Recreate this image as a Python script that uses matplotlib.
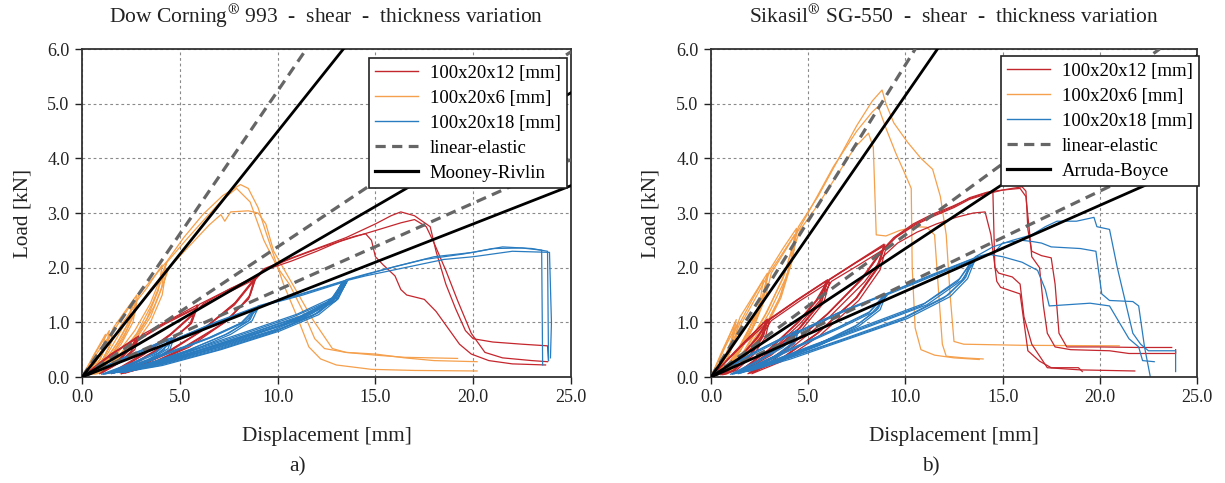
import matplotlib
matplotlib.use('Agg')
import matplotlib.pyplot as plt
from matplotlib.lines import Line2D

plt.rcParams['font.family'] = ['Liberation Serif', 'DejaVu Serif']
plt.rcParams['mathtext.fontset'] = 'stix'

# ---------------- data: Dow Corning 993 (panel a) ----------------
dc_o1_x = [0, 0.7, 1.4, 1.25, 0.9, 0.4, 0.9, 1.3, 1.6, 2.2, 2.8, 2.6, 2.1, 1.3, 0.6, 1.4, 2.1, 2.6, 2.9, 3.6, 4.3, 4.05, 3.5, 2.6, 1.6, 0.8, 1.8, 2.8, 3.6, 4.1, 4.35, 5.2, 6.2, 7.2, 8.1, 8.5, 9.0, 9.4, 10.3, 11.0, 11.6, 12.2, 13.0, 14.8, 17.0, 20.2]
dc_o1_y = [0, 0.45, 0.85, 0.6, 0.3, 0.05, 0.32, 0.62, 0.9, 1.2, 1.5, 1.1, 0.7, 0.3, 0.06, 0.4, 0.8, 1.15, 1.5, 1.8, 2.1, 1.6, 1.1, 0.6, 0.25, 0.06, 0.35, 0.8, 1.35, 1.8, 2.12, 2.55, 2.98, 3.32, 3.52, 3.45, 3.1, 2.65, 1.7, 1.1, 0.55, 0.33, 0.22, 0.14, 0.12, 0.11]
dc_o2_x = [0, 0.8, 1.6, 1.4, 1.0, 0.5, 1.1, 1.6, 2.0, 2.8, 2.6, 2.0, 1.2, 0.6, 1.5, 2.2, 2.8, 3.5, 4.3, 4.1, 3.5, 2.6, 1.6, 0.9, 1.9, 2.9, 3.7, 4.2, 4.45, 5.5, 6.5, 7.1, 7.3, 7.6, 8.5, 9.0, 9.4, 9.8, 10.6, 11.8, 12.8, 13.5, 15.0, 16.5, 18.0, 20.2]
dc_o2_y = [0, 0.45, 0.85, 0.55, 0.28, 0.05, 0.35, 0.7, 0.95, 1.35, 1.0, 0.6, 0.25, 0.05, 0.4, 0.8, 1.25, 1.6, 1.95, 1.5, 1.0, 0.55, 0.2, 0.06, 0.35, 0.8, 1.3, 1.75, 2.0, 2.4, 2.78, 2.97, 2.85, 3.02, 3.04, 3.0, 2.8, 2.3, 1.8, 1.05, 0.52, 0.45, 0.42, 0.35, 0.3, 0.28]
dc_o3_x = [0, 0.6, 1.2, 1.05, 0.7, 0.3, 0.8, 1.3, 1.9, 2.6, 2.4, 1.8, 1.1, 0.5, 1.3, 2.0, 2.6, 3.3, 4.1, 3.9, 3.3, 2.4, 1.4, 0.7, 1.7, 2.7, 3.5, 4.0, 4.3, 5.3, 6.3, 7.2, 7.9, 8.6, 9.3, 10.0, 10.6, 11.3, 11.9, 12.4, 13.5, 15.0, 16.5, 19.2]
dc_o3_y = [0, 0.4, 0.78, 0.52, 0.26, 0.04, 0.35, 0.68, 1.0, 1.38, 1.02, 0.62, 0.26, 0.05, 0.42, 0.85, 1.3, 1.62, 2.05, 1.58, 1.05, 0.58, 0.22, 0.05, 0.38, 0.85, 1.35, 1.8, 2.08, 2.5, 2.9, 3.25, 3.45, 3.2, 2.5, 2.0, 1.7, 1.2, 0.7, 0.52, 0.45, 0.4, 0.36, 0.34]

dc_r1_x = [0, 1.5, 2.9, 2.7, 2.0, 1.0, 2.0, 2.7, 3.1, 4.5, 5.9, 5.6, 4.5, 3.0, 1.5, 3.0, 4.5, 5.5, 6.0, 7.5, 8.9, 8.6, 7.5, 5.5, 3.0, 2.0, 4.0, 6.0, 7.8, 8.7, 9.3, 10.5, 12.0, 13.5, 15.0, 15.8, 16.3, 17.0, 17.8, 18.1, 18.6, 19.1, 19.6, 20.0, 21.0, 22.5, 23.8, 23.85]
dc_r1_y = [0, 0.42, 0.75, 0.5, 0.28, 0.08, 0.35, 0.6, 0.78, 1.05, 1.32, 1.0, 0.65, 0.3, 0.08, 0.4, 0.78, 1.1, 1.33, 1.6, 1.85, 1.5, 1.05, 0.55, 0.15, 0.06, 0.38, 0.82, 1.35, 1.75, 1.98, 2.15, 2.35, 2.55, 2.8, 2.95, 3.02, 2.95, 2.75, 2.3, 1.7, 1.25, 0.85, 0.7, 0.64, 0.6, 0.57, 0.3]
dc_r2_x = [0, 1.5, 2.8, 2.6, 1.9, 1.0, 2.0, 2.8, 4.4, 5.9, 5.6, 4.4, 2.8, 1.6, 3.2, 4.6, 5.6, 6.2, 7.6, 8.9, 8.55, 7.3, 5.2, 3.2, 2.2, 4.2, 6.2, 7.9, 8.8, 9.4, 10.8, 12.3, 13.8, 15.2, 16.3, 17.0, 17.6, 18.0, 18.6, 19.2, 19.9, 20.6, 21.5, 23.0, 23.8]
dc_r2_y = [0, 0.4, 0.72, 0.5, 0.26, 0.07, 0.33, 0.68, 1.02, 1.28, 0.98, 0.62, 0.28, 0.07, 0.42, 0.8, 1.12, 1.34, 1.62, 1.82, 1.45, 1.0, 0.52, 0.18, 0.07, 0.4, 0.86, 1.38, 1.78, 1.98, 2.18, 2.38, 2.55, 2.7, 2.82, 2.88, 2.75, 2.45, 1.95, 1.4, 0.8, 0.45, 0.35, 0.3, 0.28]
dc_r3_x = [0, 1.4, 2.7, 2.5, 1.8, 0.9, 1.9, 2.7, 4.3, 5.8, 5.5, 4.3, 2.7, 1.5, 3.1, 4.5, 5.5, 6.1, 7.5, 8.8, 8.5, 7.2, 5.0, 3.0, 2.0, 4.0, 6.0, 7.8, 8.7, 9.3, 10.7, 12.0, 13.3, 14.0, 14.5, 14.8, 15.0, 15.4, 16.0, 16.3, 16.6, 17.5, 18.1, 18.7, 19.3, 19.9, 20.8, 22.0, 23.7]
dc_r3_y = [0, 0.4, 0.68, 0.45, 0.24, 0.06, 0.32, 0.64, 0.98, 1.25, 0.95, 0.6, 0.26, 0.06, 0.4, 0.76, 1.08, 1.3, 1.55, 1.78, 1.42, 0.98, 0.5, 0.16, 0.06, 0.38, 0.82, 1.32, 1.72, 1.95, 2.12, 2.3, 2.5, 2.58, 2.62, 2.5, 2.2, 2.05, 1.85, 1.6, 1.5, 1.42, 1.2, 0.9, 0.6, 0.42, 0.3, 0.24, 0.22]

dc_b1_x = [0, 2.3, 4.6, 4.4, 3.5, 2.0, 1.0, 2.5, 3.8, 4.5, 6.8, 8.9, 8.6, 7.5, 5.5, 3.0, 1.5, 4.0, 6.5, 8.2, 9.0, 11.2, 13.4, 13.0, 12.0, 10.0, 7.0, 4.0, 2.0, 5.0, 8.0, 11.0, 12.8, 13.4, 13.0, 12.0, 10.0, 7.0, 4.0, 1.9, 5.0, 8.0, 11.0, 12.9, 13.5, 14.5, 15.8, 17.5, 19.5, 21.0, 22.5, 23.5, 23.55]
dc_b1_y = [0, 0.38, 0.72, 0.52, 0.32, 0.12, 0.05, 0.25, 0.45, 0.65, 1.0, 1.28, 1.05, 0.8, 0.5, 0.2, 0.08, 0.4, 0.72, 1.0, 1.3, 1.52, 1.76, 1.5, 1.22, 0.92, 0.58, 0.28, 0.1, 0.42, 0.78, 1.15, 1.45, 1.74, 1.45, 1.16, 0.86, 0.52, 0.23, 0.08, 0.38, 0.72, 1.08, 1.42, 1.78, 1.88, 2.0, 2.15, 2.25, 2.35, 2.36, 2.32, 0.22]
dc_b2_x = [0, 2.2, 4.4, 4.2, 3.3, 1.9, 1.1, 2.5, 3.7, 4.4, 6.7, 8.8, 8.5, 7.3, 5.3, 2.9, 1.6, 4.0, 6.4, 8.1, 8.9, 11.1, 13.3, 12.9, 11.8, 9.8, 6.8, 3.8, 1.6, 4.8, 7.8, 10.8, 12.7, 13.3, 12.9, 11.8, 9.8, 6.8, 3.8, 1.5, 4.8, 7.8, 10.8, 12.8, 13.4, 14.0, 16.0, 18.0, 20.0, 21.5, 23.0, 23.8, 23.85]
dc_b2_y = [0, 0.36, 0.7, 0.5, 0.3, 0.11, 0.05, 0.24, 0.44, 0.64, 0.98, 1.25, 1.02, 0.77, 0.47, 0.18, 0.07, 0.38, 0.7, 0.98, 1.27, 1.5, 1.74, 1.46, 1.17, 0.86, 0.53, 0.24, 0.08, 0.38, 0.73, 1.1, 1.4, 1.72, 1.42, 1.12, 0.82, 0.48, 0.2, 0.07, 0.35, 0.68, 1.03, 1.38, 1.76, 1.82, 2.02, 2.2, 2.28, 2.38, 2.35, 2.3, 0.3]
dc_b3_x = [0, 2.4, 4.7, 4.5, 3.6, 2.1, 1.2, 2.6, 3.9, 4.6, 6.9, 9.0, 8.7, 7.6, 5.6, 3.1, 1.8, 4.2, 6.6, 8.3, 9.1, 11.3, 13.5, 13.1, 12.1, 10.1, 7.1, 4.1, 2.2, 5.2, 8.2, 11.2, 12.9, 13.5, 13.1, 12.1, 10.1, 7.1, 4.1, 2.0, 5.2, 8.2, 11.2, 13.0, 13.6, 14.5, 16.5, 18.5, 20.0, 22.0, 23.9, 24.0, 23.95]
dc_b3_y = [0, 0.37, 0.71, 0.51, 0.31, 0.12, 0.06, 0.24, 0.44, 0.64, 0.99, 1.26, 1.03, 0.78, 0.48, 0.19, 0.08, 0.4, 0.72, 1.0, 1.29, 1.5, 1.75, 1.47, 1.18, 0.88, 0.55, 0.25, 0.09, 0.4, 0.75, 1.12, 1.43, 1.73, 1.43, 1.14, 0.84, 0.5, 0.21, 0.08, 0.37, 0.7, 1.06, 1.4, 1.77, 1.85, 2.0, 2.15, 2.2, 2.3, 2.28, 1.0, 0.35]

dc_le_slopes = [0.523, 0.238, 0.159]
dc_mr_slopes = [0.449, 0.208, 0.14]

# ---------------- data: Sikasil SG-550 (panel b) ----------------
sk_o1_x = [0, 0.7, 1.3, 1.15, 0.8, 0.3, 0.8, 1.2, 1.5, 2.2, 2.9, 2.7, 2.1, 1.3, 0.5, 1.4, 2.2, 2.7, 3.0, 3.7, 4.4, 4.2, 3.6, 2.6, 1.6, 0.7, 1.8, 2.9, 3.8, 4.3, 4.5, 5.5, 6.5, 7.5, 8.3, 8.8, 9.0, 9.4, 10.1, 10.8, 11.4, 11.8, 12.1, 12.3, 12.5, 13.0, 16.0, 21.0]
sk_o1_y = [0, 0.55, 1.05, 0.75, 0.4, 0.05, 0.42, 0.8, 1.1, 1.5, 1.9, 1.45, 0.9, 0.4, 0.05, 0.5, 1.05, 1.5, 1.95, 2.35, 2.72, 2.2, 1.5, 0.8, 0.3, 0.05, 0.5, 1.2, 1.9, 2.5, 2.75, 3.3, 3.95, 4.6, 5.05, 5.25, 5.0, 4.65, 4.3, 4.0, 3.8, 3.3, 2.6, 1.5, 0.65, 0.6, 0.58, 0.57]
sk_o2_x = [0, 0.8, 1.4, 1.25, 0.9, 0.4, 0.9, 1.3, 1.6, 2.3, 2.9, 2.7, 2.1, 1.3, 0.6, 1.5, 2.3, 2.8, 3.1, 3.8, 4.4, 4.2, 3.6, 2.6, 1.6, 0.8, 1.9, 3.0, 3.9, 4.35, 4.6, 5.5, 6.5, 7.4, 8.1, 8.35, 8.5, 9.0, 9.7, 10.5, 11.1, 11.5, 11.7, 11.9, 12.1, 13.0, 14.0]
sk_o2_y = [0, 0.6, 1.0, 0.7, 0.38, 0.05, 0.4, 0.75, 1.0, 1.45, 1.85, 1.4, 0.85, 0.35, 0.05, 0.48, 1.0, 1.45, 1.9, 2.3, 2.65, 2.15, 1.45, 0.75, 0.28, 0.05, 0.5, 1.18, 1.85, 2.45, 2.7, 3.15, 3.7, 4.2, 4.46, 4.2, 2.6, 2.58, 2.68, 2.75, 2.74, 2.6, 1.6, 0.6, 0.38, 0.35, 0.33]
sk_o3_x = [0, 0.6, 1.2, 1.05, 0.7, 0.3, 0.8, 1.2, 1.5, 2.1, 2.7, 2.5, 1.9, 1.2, 0.5, 1.3, 2.1, 2.6, 2.9, 3.6, 4.3, 4.1, 3.5, 2.5, 1.5, 0.7, 1.7, 2.8, 3.7, 4.2, 4.4, 5.3, 6.3, 7.5, 8.3, 8.6, 9.0, 9.5, 10.0, 10.3, 10.35, 10.5, 10.8, 11.5, 12.5, 13.8]
sk_o3_y = [0, 0.5, 0.95, 0.68, 0.36, 0.05, 0.4, 0.72, 1.0, 1.4, 1.78, 1.35, 0.82, 0.35, 0.05, 0.45, 0.98, 1.42, 1.85, 2.22, 2.6, 2.1, 1.42, 0.72, 0.26, 0.05, 0.48, 1.15, 1.8, 2.38, 2.62, 3.2, 3.85, 4.5, 4.85, 4.95, 4.55, 4.1, 3.7, 3.45, 2.0, 0.9, 0.5, 0.4, 0.35, 0.32]

sk_r1_x = [0, 1.5, 2.9, 2.7, 2.1, 1.2, 0.6, 1.5, 2.4, 3.0, 4.5, 6.0, 5.7, 4.6, 3.0, 1.5, 3.0, 4.5, 5.5, 6.1, 7.5, 8.95, 8.6, 7.5, 5.5, 3.5, 2.0, 4.0, 6.0, 7.8, 8.8, 9.5, 10.5, 11.5, 12.5, 13.3, 14.2, 15.0, 16.0, 16.2, 16.3, 16.5, 17.0, 17.5, 17.7, 17.9, 18.3, 20.0, 22.0, 23.7]
sk_r1_y = [0, 0.55, 1.05, 0.75, 0.42, 0.12, 0.04, 0.35, 0.72, 1.05, 1.42, 1.77, 1.38, 0.9, 0.42, 0.1, 0.5, 1.0, 1.42, 1.78, 2.1, 2.42, 2.0, 1.45, 0.8, 0.3, 0.07, 0.55, 1.15, 1.8, 2.3, 2.55, 2.78, 2.95, 3.1, 3.25, 3.35, 3.42, 3.48, 3.4, 2.7, 2.3, 2.22, 2.18, 1.7, 0.8, 0.55, 0.55, 0.54, 0.54]
sk_r2_x = [0, 1.4, 2.8, 2.6, 2.0, 1.1, 0.5, 1.4, 2.3, 2.9, 4.4, 5.9, 5.6, 4.5, 2.9, 1.4, 2.9, 4.4, 5.4, 6.0, 7.4, 8.9, 8.5, 7.4, 5.4, 3.4, 1.9, 3.9, 5.9, 7.7, 8.7, 9.4, 10.4, 11.4, 12.4, 13.2, 14.0, 14.5, 14.6, 14.8, 15.5, 15.9, 16.1, 16.5, 17.3, 19.0, 21.8]
sk_r2_y = [0, 0.53, 1.02, 0.72, 0.4, 0.11, 0.04, 0.33, 0.7, 1.02, 1.4, 1.75, 1.36, 0.88, 0.4, 0.09, 0.48, 0.98, 1.4, 1.76, 2.08, 2.4, 1.98, 1.42, 0.78, 0.28, 0.06, 0.52, 1.12, 1.78, 2.28, 2.55, 2.8, 2.98, 3.12, 3.25, 3.35, 3.4, 2.0, 1.9, 1.83, 1.7, 1.1, 0.6, 0.17, 0.13, 0.11]
sk_r3_x = [0, 1.5, 3.0, 2.8, 2.2, 1.3, 0.7, 1.6, 2.5, 3.1, 4.6, 6.1, 5.8, 4.7, 3.1, 1.6, 3.1, 4.6, 5.6, 6.2, 7.6, 9.0, 8.7, 7.6, 5.6, 3.6, 2.1, 4.1, 6.1, 7.9, 8.9, 9.6, 10.6, 11.6, 12.6, 13.5, 14.1, 14.4, 14.7, 14.9, 15.9, 16.1, 16.3, 16.9, 17.5, 18.9, 19.1]
sk_r3_y = [0, 0.54, 1.03, 0.73, 0.41, 0.12, 0.05, 0.34, 0.7, 1.03, 1.4, 1.74, 1.36, 0.88, 0.4, 0.1, 0.48, 0.98, 1.4, 1.75, 2.05, 2.36, 1.96, 1.4, 0.76, 0.28, 0.06, 0.52, 1.1, 1.74, 2.22, 2.45, 2.65, 2.8, 2.92, 3.0, 3.02, 2.6, 1.75, 1.64, 1.52, 1.0, 0.48, 0.29, 0.17, 0.17, 0.1]
sk_r4_x = [0, 1.5, 2.9, 2.7, 2.1, 1.2, 0.6, 1.5, 2.4, 3.0, 4.5, 6.0, 5.7, 4.6, 3.0, 1.5, 3.0, 4.5, 5.5, 6.1, 7.5, 8.9, 8.6, 7.5, 5.5, 3.5, 2.0, 4.0, 6.0, 7.8, 8.8, 9.5, 10.5, 11.5, 12.5, 13.3, 14.2, 15.0, 15.9, 16.2, 16.4, 16.5, 16.9, 17.1, 17.3, 17.7, 18.5, 20.5, 21.5, 23.9, 23.9]
sk_r4_y = [0, 0.56, 1.06, 0.76, 0.43, 0.13, 0.05, 0.36, 0.73, 1.06, 1.43, 1.78, 1.39, 0.91, 0.43, 0.11, 0.51, 1.01, 1.43, 1.79, 2.11, 2.43, 2.01, 1.46, 0.81, 0.31, 0.08, 0.56, 1.16, 1.81, 2.31, 2.56, 2.8, 2.97, 3.12, 3.28, 3.38, 3.42, 3.45, 3.3, 2.6, 2.2, 2.0, 1.3, 0.8, 0.55, 0.5, 0.48, 0.43, 0.43, 0.5]

sk_b1_x = [0, 2.2, 4.4, 4.2, 3.4, 2.0, 1.0, 2.4, 3.6, 4.4, 6.7, 8.95, 8.6, 7.5, 5.5, 3.0, 1.3, 4.0, 6.5, 8.2, 9.0, 11.2, 13.5, 13.1, 12.2, 10.0, 7.0, 4.0, 1.8, 5.0, 8.0, 11.0, 12.8, 13.6, 14.5, 15.5, 16.5, 17.2, 17.8, 18.8, 19.7, 19.85, 20.5, 20.9, 21.3, 21.7, 22.1, 22.5, 23.9, 23.9]
sk_b1_y = [0, 0.45, 0.85, 0.62, 0.4, 0.15, 0.05, 0.3, 0.55, 0.82, 1.2, 1.52, 1.25, 0.95, 0.6, 0.25, 0.07, 0.5, 0.9, 1.2, 1.52, 1.85, 2.17, 1.82, 1.5, 1.1, 0.72, 0.35, 0.1, 0.55, 0.95, 1.35, 1.8, 2.2, 2.38, 2.5, 2.6, 2.75, 2.85, 2.85, 2.92, 2.75, 2.7, 2.0, 1.4, 0.8, 0.6, 0.48, 0.48, 0.1]
sk_b2_x = [0, 2.1, 4.3, 4.1, 3.3, 1.9, 1.1, 2.4, 3.5, 4.3, 6.6, 8.9, 8.5, 7.4, 5.4, 2.9, 1.4, 3.9, 6.4, 8.1, 8.9, 11.1, 13.4, 13.0, 12.0, 9.8, 6.8, 3.8, 1.6, 4.8, 7.8, 10.8, 12.7, 13.5, 14.5, 15.0, 16.0, 16.5, 17.0, 17.5, 19.0, 19.8, 20.1, 20.5, 21.7, 22.0, 22.3, 22.6]
sk_b2_y = [0, 0.43, 0.83, 0.6, 0.38, 0.14, 0.05, 0.29, 0.53, 0.8, 1.18, 1.5, 1.22, 0.92, 0.57, 0.23, 0.06, 0.48, 0.88, 1.17, 1.5, 1.82, 2.15, 1.78, 1.45, 1.05, 0.68, 0.32, 0.09, 0.52, 0.9, 1.3, 1.75, 2.17, 2.25, 2.45, 2.5, 2.48, 2.45, 2.38, 2.35, 2.3, 1.52, 1.4, 1.38, 1.3, 0.55, 0.0]
sk_b3_x = [0, 2.3, 4.5, 4.3, 3.5, 2.1, 1.2, 2.5, 3.7, 4.5, 6.8, 9.0, 8.7, 7.6, 5.6, 3.1, 1.5, 4.1, 6.6, 8.3, 9.1, 11.3, 13.6, 13.2, 12.3, 10.1, 7.1, 4.1, 1.9, 5.1, 8.1, 11.1, 12.9, 13.7, 14.2, 15.0, 16.0, 16.8, 17.2, 17.4, 19.5, 20.5, 21.0, 21.5, 22.0, 22.2, 22.8]
sk_b3_y = [0, 0.44, 0.84, 0.61, 0.39, 0.15, 0.06, 0.3, 0.54, 0.81, 1.19, 1.51, 1.23, 0.93, 0.58, 0.24, 0.07, 0.49, 0.89, 1.18, 1.51, 1.83, 2.16, 1.8, 1.47, 1.07, 0.7, 0.33, 0.1, 0.53, 0.92, 1.32, 1.77, 2.2, 2.25, 2.2, 2.1, 1.95, 1.6, 1.3, 1.35, 1.3, 1.0, 0.7, 0.55, 0.3, 0.28]

sk_le_slopes = [0.571, 0.26, 0.17]
sk_ab_slopes = [0.515, 0.235, 0.157]

legend_labels = ['100x20x12 [mm]', '100x20x6 [mm]', '100x20x18 [mm]', 'linear-elastic']
x_ticks = [0, 5, 10, 15, 20, 25]
y_ticks = [0, 1, 2, 3, 4, 5, 6]

RED = '#c4262d'
ORANGE = '#f5a04c'
BLUE = '#2a7cc0'
W, H = 1225, 483

fig = plt.figure(figsize=(W / 100, H / 100), dpi=100)
ax1 = fig.add_axes([82 / W, 1 - 377 / H, 489 / W, 328 / H])
ax2 = fig.add_axes([711 / W, 1 - 377 / H, 486 / W, 328 / H])


def panel(ax, reds, oranges, blues, le_slopes, model_slopes, model_name, legend_right, legend_top):
    ax.set_xlim(0, 25)
    ax.set_ylim(0, 6)
    ax.set_xticks(x_ticks)
    ax.set_yticks(y_ticks)
    ax.set_xticklabels(['%.1f' % v for v in x_ticks])
    ax.set_yticklabels(['%.1f' % v for v in y_ticks])
    ax.tick_params(direction='out', length=5, width=1, labelsize=13, colors='#222222', pad=4)
    for sp in ax.spines.values():
        sp.set_color('#333333')
        sp.set_linewidth(1.3)
    ax.grid(True, color='#8a8a8a', lw=0.8, ls=(0, (2.5, 2.5)))
    ax.set_axisbelow(True)
    for xs, ys in oranges:
        ax.plot(xs, ys, color=ORANGE, lw=0.9, zorder=2)
    for xs, ys in reds:
        ax.plot(xs, ys, color=RED, lw=0.9, zorder=2)
    for xs, ys in blues:
        ax.plot(xs, ys, color=BLUE, lw=0.9, zorder=2)
    for s in le_slopes:
        ax.axline((0, 0), slope=s, color='#666666', lw=2.3, dashes=(3.2, 2.0), zorder=3)
    for s in model_slopes:
        ax.axline((0, 0), slope=s, color='black', lw=2.0, zorder=4)
    handles = [Line2D([], [], color=RED, lw=1.0),
               Line2D([], [], color=ORANGE, lw=1.0),
               Line2D([], [], color=BLUE, lw=1.0),
               Line2D([], [], color='#666666', lw=2.3, dashes=(3.2, 2.0)),
               Line2D([], [], color='black', lw=2.3)]
    leg = ax.legend(handles, legend_labels + [model_name], loc='upper right',
                    bbox_to_anchor=(legend_right, legend_top), borderaxespad=0,
                    fontsize=13.5, frameon=True, fancybox=False, framealpha=1,
                    edgecolor='#222222', handlelength=2.3, handletextpad=0.6,
                    borderpad=0.35, labelspacing=0.42)
    leg.get_frame().set_linewidth(1.2)
    leg.set_zorder(10)


panel(ax1,
      [(dc_r1_x, dc_r1_y), (dc_r2_x, dc_r2_y), (dc_r3_x, dc_r3_y)],
      [(dc_o1_x, dc_o1_y), (dc_o2_x, dc_o2_y), (dc_o3_x, dc_o3_y)],
      [(dc_b1_x, dc_b1_y), (dc_b2_x, dc_b2_y), (dc_b3_x, dc_b3_y)],
      dc_le_slopes, dc_mr_slopes, 'Mooney-Rivlin', 0.992, 0.973)
panel(ax2,
      [(sk_r1_x, sk_r1_y), (sk_r2_x, sk_r2_y), (sk_r3_x, sk_r3_y), (sk_r4_x, sk_r4_y)],
      [(sk_o1_x, sk_o1_y), (sk_o2_x, sk_o2_y), (sk_o3_x, sk_o3_y)],
      [(sk_b1_x, sk_b1_y), (sk_b2_x, sk_b2_y), (sk_b3_x, sk_b3_y)],
      sk_le_slopes, sk_ab_slopes, 'Arruda-Boyce', 1.004, 0.979)

TXT = '#222222'
fig.text((82 + 489 / 2) / W, 1 - 17 / H, r'Dow Corning$^{\circledR}$ 993  -  shear  -  thickness variation',
         ha='center', va='center', fontsize=15.5, color=TXT)
fig.text((711 + 486 / 2) / W, 1 - 17 / H, r'Sikasil$^{\circledR}$ SG-550  -  shear  -  thickness variation',
         ha='center', va='center', fontsize=15.5, color=TXT)
for cx in [(82 + 489 / 2), (711 + 486 / 2)]:
    fig.text(cx / W, 1 - 436 / H, 'Displacement [mm]', ha='center', va='center', fontsize=15.3, color=TXT)
fig.text(23 / W, 1 - 213 / H, 'Load [kN]', ha='center', va='center', rotation=90, fontsize=15.3, color=TXT)
fig.text(651 / W, 1 - 213 / H, 'Load [kN]', ha='center', va='center', rotation=90, fontsize=15.3, color=TXT)
fig.text(298 / W, 1 - 467 / H, 'a)', ha='center', va='center', fontsize=15.3, color=TXT)
fig.text(931 / W, 1 - 467 / H, 'b)', ha='center', va='center', fontsize=15.3, color=TXT)

fig.savefig('out.png', dpi=100)
